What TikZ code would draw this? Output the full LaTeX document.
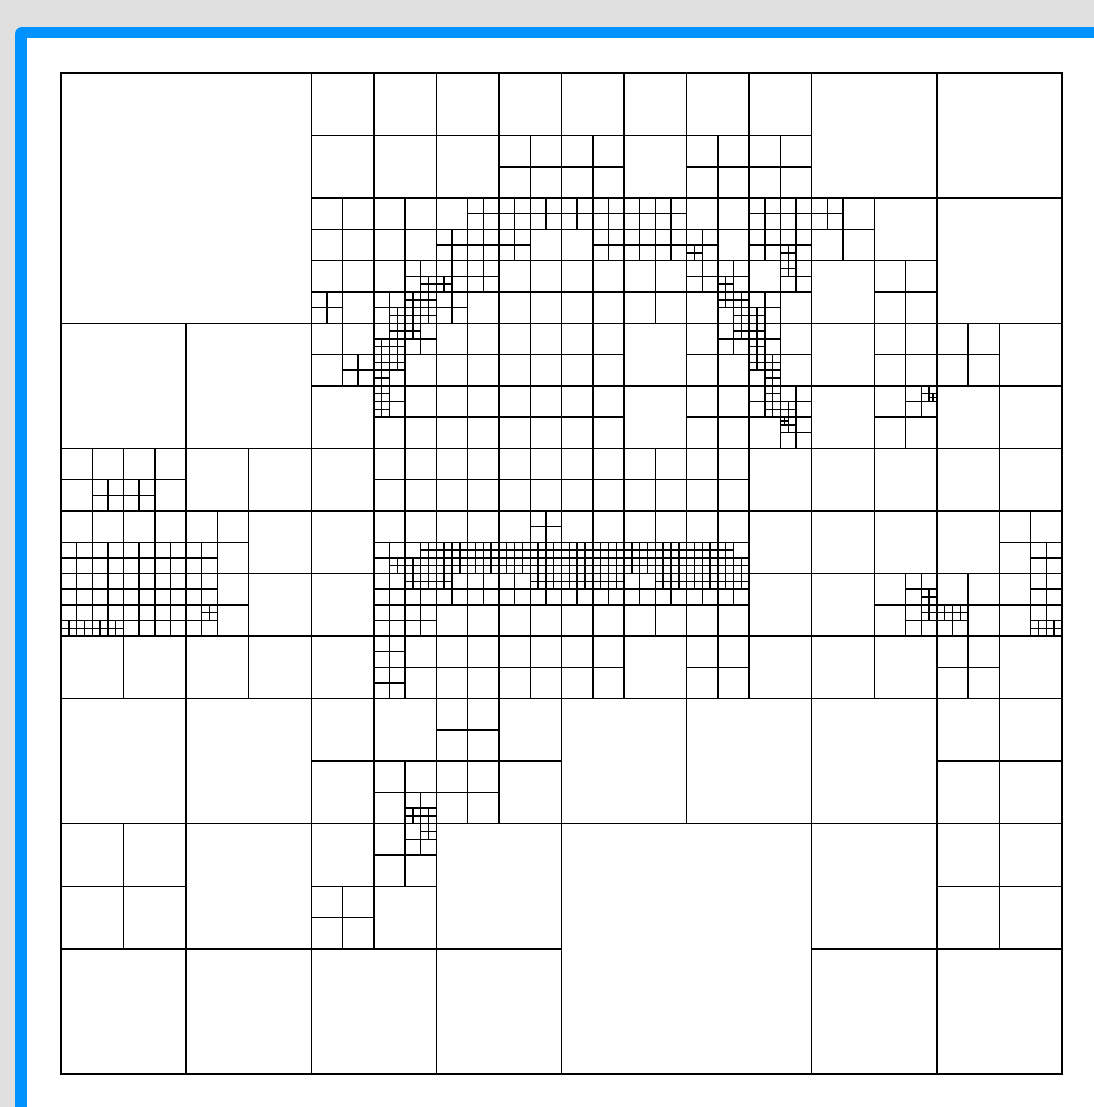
\documentclass[tikz,border=0pt]{standalone}
\definecolor{bggrey}{RGB}{224,224,224}
\definecolor{frameblue}{RGB}{0,146,255}
\newcommand\qsplit[2]{\foreach \qx/\qy in {#2}{\draw[qline] (\qx+#1/2,\qy) -- ++(0,#1) (\qx,\qy+#1/2) -- ++(#1,0);}}
\begin{document}
\begin{tikzpicture}[x=1bp,y=-1bp, qline/.style={line width=1.45bp, black}]
\useasboundingbox (0,0) rectangle (1094,1107);
\clip (0,0) rectangle (1094,1107);
\fill[bggrey] (0,0) rectangle (1094,1107);
\fill[frameblue, rounded corners=7bp] (15,27) rectangle (1150,1160);
\fill[white] (27,38) rectangle (1150,1160);
\begin{scope}[shift={(61,73)}, x=62.5625bp, y=-62.5625bp]
\draw[qline] (0,0) rectangle (16,16);
\qsplit{16}{0/0}
\qsplit{8}{0/0,8/0,0/8,8/8}
\qsplit{4}{4/0,0/4,4/4,8/0,12/0,8/4,12/4,0/8,4/8,0/12,4/12,8/8,12/8,12/12}
\qsplit{2}{4/0,6/0,4/2,6/2,0/6,2/6,4/4,6/4,4/6,6/6,8/0,10/0,8/2,10/2,12/2,8/4,10/4,8/6,10/6,12/4,14/4,12/6,14/6,0/8,2/8,4/8,6/8,4/10,6/10,0/12,4/12,8/8,10/8,12/8,14/8,14/10,14/12}
\qsplit{1}{7/1,8/1,10/1,11/1,4/2,5/2,4/3,5/3,6/2,7/2,6/3,7/3,8/2,9/2,8/3,9/3,10/2,11/2,10/3,11/3,12/2,13/3,0/6,1/6,0/7,1/7,2/7,4/4,5/4,5/5,6/4,7/4,6/5,7/5,5/6,5/7,6/6,7/6,6/7,7/7,8/4,8/5,10/4,11/4,10/5,11/5,8/6,9/6,8/7,9/7,10/6,10/7,13/4,13/5,14/4,15/7,0/8,1/8,2/8,5/8,5/9,6/8,7/8,6/9,7/9,5/11,6/10,6/11,5/12,4/13,8/8,9/8,8/9,10/8,10/9,13/8,14/8,15/8,14/9}
\qsplit{0.5}{4/3.5,5.5/3,5/3.5,5.5/3.5,6.5/2,6/2.5,6.5/2.5,7/2,7.5/2,7/2.5,6/3,6.5/3,6/3.5,8/2,8.5/2,8.5/2.5,9/2,9.5/2,9/2.5,9.5/2.5,10/2.5,11/2,11.5/2,11/2.5,11.5/2.5,10/3,10.5/3,10.5/3.5,11.5/3,11/3.5,12/2,0.5/6.5,1/6.5,0/7.5,0.5/7.5,1/7.5,1.5/7.5,2/7.5,4.5/4.5,5/4,5.5/4,5/4.5,5/5,5/7.5,5.5/7.5,6/7.5,6.5/7.5,7.5/7,7/7.5,7.5/7.5,10.5/4,11/4,11/4.5,11/5,11.5/5,11.5/5.5,8/7.5,8.5/7.5,9/7.5,9.5/7.5,10/7.5,10.5/7.5,13.5/5,15.5/7.5,0/8,0.5/8,0/8.5,0.5/8.5,1/8,1.5/8,1/8.5,1.5/8.5,2/8,2/8.5,5/8,5.5/8,5/8.5,5.5/8.5,5/9,5/9.5,6/8,6.5/8,7/8,7.5/8,5.5/11.5,5.5/12,8/8,8.5/8,9/8,9.5/8,10/8,10.5/8,13.5/8,13.5/8.5,14/8.5,15.5/8,15.5/8.5}
\qsplit{0.25}{5.75/3.25,6/3.25,5.5/3.5,5.75/3.5,5.25/3.75,5.5/3.75,5.75/3.75,5.25/4,5.5/4,5/4.25,5.25/4.25,5/4.5,5.25/4.5,5/4.75,5/5,5/5.25,
10/2.75,11.5/2.75,11.5/3,10.5/3.25,10.5/3.5,10.75/3.5,10.75/3.75,11/3.75,10.75/4,11/4,11/4.25,11/4.5,11.25/4.5,11.25/4.75,11.25/5,11.25/5.25,11.5/5.25,11.5/5.5,
5.75/7.5,6/7.5,6.25/7.5,6.5/7.5,6.75/7.5,7/7.5,7.25/7.5,7.5/7.5,7.75/7.5,8/7.5,8.25/7.5,8.5/7.5,8.75/7.5,9/7.5,9.25/7.5,9.5/7.5,9.75/7.5,10/7.5,10.25/7.5,10.5/7.5,
5.25/7.75,5.5/7.75,5.75/7.75,6/7.75,6.25/7.75,6.5/7.75,6.75/7.75,7/7.75,7.25/7.75,7.5/7.75,7.75/7.75,8/7.75,8.25/7.75,8.5/7.75,8.75/7.75,9/7.75,9.25/7.75,9.5/7.75,9.75/7.75,10/7.75,10.25/7.75,10.5/7.75,10.75/7.75,
5.5/8,5.75/8,6/8,7.5/8,7.75/8,8/8,8.25/8,8.5/8,8.75/8,9.5/8,9.75/8,10/8,10.25/8,10.5/8,10.75/8,
0/8.75,0.25/8.75,0.5/8.75,0.75/8.75,2.25/8.5,
13.75/5,13.75/8.25,13.75/8.5,14/8.5,14.25/8.5,15.5/8.75,15.75/8.75,
5.5/11.75,5.75/11.75,5.75/12}
\qsplit{0.125}{11.5/5.5,13.875/5.125}
\end{scope}
\end{tikzpicture}
\end{document}
